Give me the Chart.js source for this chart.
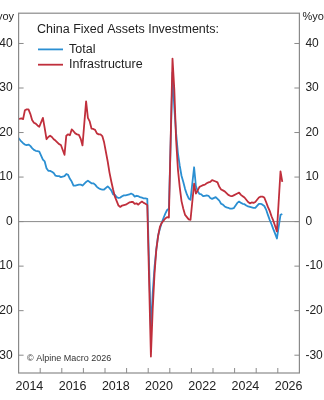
<!DOCTYPE html>
<html>
<head>
<meta charset="utf-8">
<script src="https://cdn.jsdelivr.net/npm/chart.js@4/dist/chart.umd.min.js"></script>
<style>
  html, body { margin:0; padding:0; background:#fff; overflow:hidden; }
  #wrap { position:absolute; left:-12px; top:0; width:348px; height:400px; }
</style>
</head>
<body>
<div id="wrap"><canvas id="chart"></canvas></div>
<script>
/* ========== DADOS ========== */

// monthly series, first value = Dec 2013, then Jan..Dec per year (Jan not published -> null)
const firstYear = 2013, firstMonth = 12;

const totalYoY = [
  19.0,
  null, 18.0, 17.6, 17.3, 17.2, 17.3, 17.0, 16.5, 16.1, 15.9, 15.8, 15.7,   // 2014
  null, 13.9, 13.5, 12.0, 11.4, 11.4, 11.2, 10.9, 10.3, 10.2, 10.2, 10.0,   // 2015
  null, 10.2, 10.7, 10.5,  9.6,  9.0,  8.1,  8.1,  8.2,  8.3,  8.3,  8.1,   // 2016
  null,  8.9,  9.2,  8.9,  8.6,  8.6,  8.3,  7.8,  7.5,  7.3,  7.2,  7.2,   // 2017
  null,  7.9,  7.5,  7.0,  6.1,  6.0,  5.5,  5.3,  5.4,  5.7,  5.9,  5.9,   // 2018
  null,  6.1,  6.3,  6.1,  5.6,  5.8,  5.7,  5.5,  5.4,  5.2,  5.2,  5.1,   // 2019
  null,-24.5,-16.1,-10.3, -6.3, -3.1, -1.6, -0.3,  0.8,  1.8,  2.6,  2.9,   // 2020
  null, 33.5, 25.6, 19.9, 15.4, 12.6, 10.3,  8.9,  7.3,  6.1,  5.2,  4.9,   // 2021
  null, 12.2,  8.0,  6.8,  6.2,  6.1,  5.7,  5.8,  5.9,  5.8,  5.3,  5.1,   // 2022
  null,  5.5,  5.1,  4.7,  4.0,  3.8,  3.4,  3.2,  3.1,  2.9,  2.9,  3.0,   // 2023
  null,  4.2,  4.5,  4.2,  4.0,  3.9,  3.6,  3.4,  3.3,  3.2,  3.1,  3.1,   // 2024
  null,  4.0,  4.0,  3.8,  3.5,  2.7,  1.5,  0.4, -0.6, -1.7, -2.7, -3.8,   // 2025
  null,  1.5,  1.7                                                          // 2026
];

const infraYoY = [
  23.0,
  null, 23.2, 23.0, 25.0, 25.2, 25.2, 24.2, 22.8, 22.2, 22.0, 21.6, 21.3,   // 2014
  null, 23.3, 21.0, 18.5, 19.0, 19.3, 19.0, 18.5, 18.2, 17.8, 17.4, 17.2,   // 2015
  null, 15.0, 19.3, 19.6, 19.4, 20.7, 20.3, 19.8, 19.6, 19.5, 18.6, 17.1,   // 2016
  null, 27.0, 23.3, 22.5, 20.9, 20.8, 20.6, 19.8, 19.6, 19.6, 19.2, 17.8,   // 2017
  null, 13.5, 11.0,  9.0,  7.2,  5.6,  4.6,  3.6,  3.3,  3.6,  3.7,  3.8,   // 2018
  null,  4.3,  4.4,  4.4,  4.0,  4.1,  3.8,  4.2,  4.5,  4.2,  4.0,  3.7,   // 2019
  null,-30.3,-19.7,-11.8, -6.3, -3.3, -1.2, -0.3,  0.2,  0.7,  1.0,  0.9,   // 2020
  null, 36.6, 29.7, 18.4, 11.8,  7.8,  4.6,  2.9,  1.5,  1.0,  0.5,  0.4,   // 2021
  null,  8.5,  6.3,  7.0,  7.8,  8.0,  8.2,  8.3,  8.6,  8.8,  8.9,  9.3,   // 2022
  null,  9.0,  8.8,  7.8,  7.2,  7.0,  6.8,  6.4,  6.0,  5.8,  5.7,  5.9,   // 2023
  null,  6.3,  6.5,  6.0,  5.7,  5.4,  4.9,  4.4,  4.1,  4.3,  4.2,  4.4,   // 2024
  null,  5.4,  5.6,  5.6,  5.4,  4.4,  3.3,  2.4,  1.2,  0.2, -1.0, -2.2,   // 2025
  null, 11.3,  8.9                                                          // 2026
];

const xLabelYears = [2014, 2016, 2018, 2020, 2022, 2024, 2026];
const xMinorYears = [2015, 2016, 2017, 2018, 2019, 2020, 2021, 2022, 2023, 2024, 2025, 2026];
const yTicks = [-30, -20, -10, 0, 10, 20, 30, 40];

const titleText = 'China Fixed Assets Investments:';
const unitText = '%yoy';
const sourceText = '\u00A9 Alpine Macro 2026';

/* ========== HELPERS ========== */

const FONT = '"Liberation Sans", Arial, Helvetica, sans-serif';
const FRAME = '#8a8a8a';
const TEXT = '#222';

// monthly value -> {x: decimal year (mid-month), y}
function toPoints(arr){
  return arr.map((v, i) => {
    const m = firstMonth - 1 + i;              // 0-based months since Jan firstYear
    const yr = firstYear + Math.floor(m / 12);
    const mo = m % 12;
    return { x: yr + (mo + 0.5) / 12, y: v };
  });
}

/* ========== PLUGIN: moldura, ticks, legenda ========== */

const framePlugin = {
  id: 'frame',
  beforeDatasetsDraw(chart){
    const { ctx, chartArea: a, scales } = chart;
    const y0 = scales.y.getPixelForValue(0);
    ctx.save();
    ctx.strokeStyle = FRAME;
    ctx.lineWidth = 1;
    ctx.beginPath();
    ctx.moveTo(a.left, y0); ctx.lineTo(a.right, y0);
    ctx.stroke();
    ctx.restore();
  },
  afterDatasetsDraw(chart){
    const { ctx, chartArea: a, scales } = chart;
    ctx.save();
    ctx.strokeStyle = FRAME;
    ctx.lineWidth = 1.2;
    ctx.strokeRect(a.left, a.top, a.right - a.left, a.bottom - a.top);

    ctx.lineWidth = 1;
    ctx.beginPath();
    xMinorYears.forEach(yr => {
      const x = scales.x.getPixelForValue(yr);
      ctx.moveTo(x, a.bottom); ctx.lineTo(x, a.bottom - 5);
    });
    yTicks.forEach(v => {
      const y = scales.y.getPixelForValue(v);
      ctx.moveTo(a.left, y); ctx.lineTo(a.left + 5, y);
      ctx.moveTo(a.right, y); ctx.lineTo(a.right - 5, y);
    });
    ctx.stroke();

    // unidades
    ctx.fillStyle = TEXT;
    ctx.font = '11px ' + FONT;
    ctx.textBaseline = 'middle';
    ctx.textAlign = 'right';
    ctx.fillText(unitText, a.left - 4.5, a.top + 3.5);
    ctx.textAlign = 'left';
    ctx.fillText(unitText, a.right + 3, a.top + 3.5);

    // titulo + legenda
    ctx.font = '12.5px ' + FONT;
    ctx.fillText(titleText, a.left + 18.4, a.top + 16.5);
    const rows = [chart.data.datasets[0], chart.data.datasets[1]];
    rows.forEach((ds, i) => {
      const y = a.top + 36.2 + i * 15.3;
      ctx.strokeStyle = ds.borderColor;
      ctx.lineWidth = 1.8;
      ctx.beginPath();
      ctx.moveTo(a.left + 19.4, y); ctx.lineTo(a.left + 44.4, y);
      ctx.stroke();
      ctx.fillText(ds.label, a.left + 50.4, y);
    });

    // fonte
    ctx.font = '9px ' + FONT;
    ctx.fillStyle = '#333';
    ctx.fillText(sourceText, a.left + 8.5, a.bottom - 14);
    ctx.restore();
  }
};

/* ========== CHART ========== */

const yScale = (position, width) => ({
  type: 'linear',
  position,
  min: -34,
  max: 46.8,
  afterBuildTicks: s => { s.ticks = yTicks.map(v => ({ value: v })); },
  afterFit: s => { s.width = width; },
  grid: { display: false, drawTicks: false },
  border: { display: false },
  ticks: { padding: 6, color: TEXT, font: { family: FONT, size: 12 } }
});

const ctx = document.getElementById('chart').getContext('2d');
const chart = new Chart(ctx, {
  type: 'line',
  data: {
    datasets: [
      { label: 'Total', data: toPoints(totalYoY), borderColor: '#2b8fd2', order: 2 },
      { label: 'Infrastructure', data: toPoints(infraYoY), borderColor: '#c02f3c', order: 1 }
    ]
  },
  options: {
    responsive: true,
    maintainAspectRatio: false,
    animation: false,
    parsing: false,
    spanGaps: true,
    layout: { padding: { top: 9.5, left: 0, right: 0, bottom: 0 } },
    elements: {
      point: { radius: 0 },
      line: { borderWidth: 1.8, tension: 0, borderJoinStyle: 'round', fill: false }
    },
    plugins: { legend: { display: false }, tooltip: { enabled: false } },
    scales: {
      x: {
        type: 'linear',
        min: 2014,
        max: 2027,
        afterBuildTicks: s => { s.ticks = xLabelYears.map(y => ({ value: y + 0.5 })); },
        afterFit: s => { s.height = 27; },
        grid: { display: false, drawTicks: false },
        border: { display: false },
        ticks: {
          padding: 6, autoSkip: false, maxRotation: 0, color: TEXT,
          font: { family: FONT, size: 12.5 },
          callback: v => String(Math.floor(v))
        }
      },
      y: yScale('left', 30.6),
      y2: yScale('right', 36.6)
    }
  },
  plugins: [framePlugin]
});
</script>
</body>
</html>
